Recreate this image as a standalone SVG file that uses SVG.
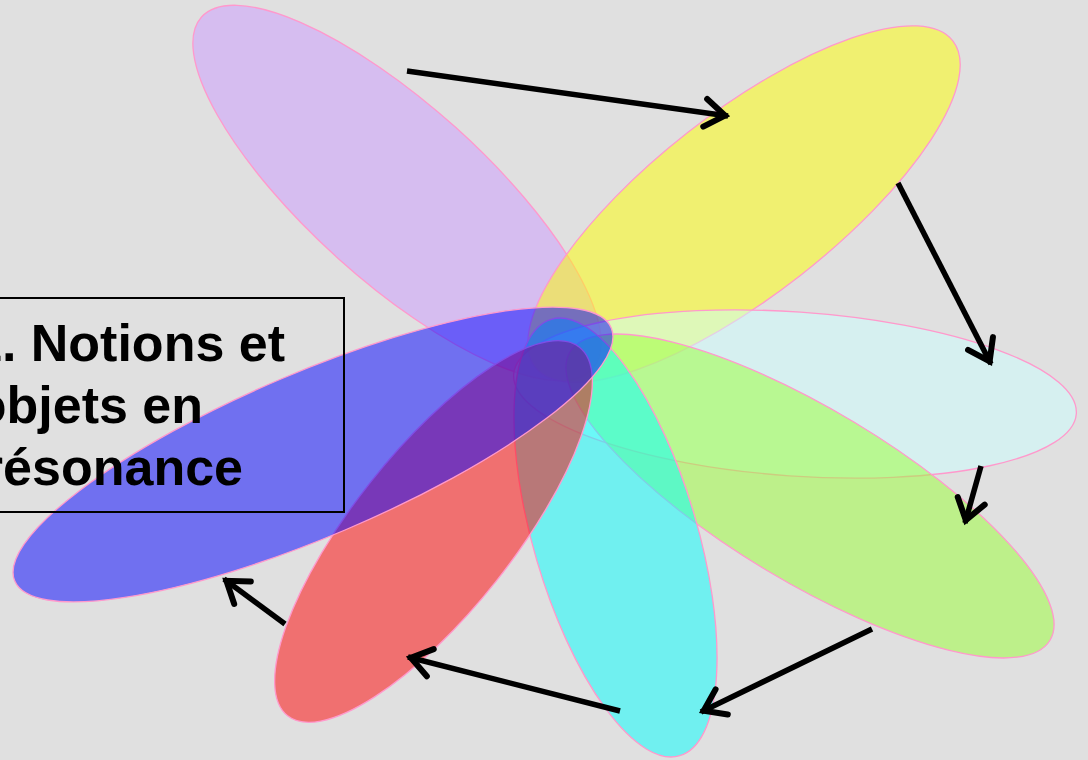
<svg xmlns="http://www.w3.org/2000/svg" width="1088" height="760" viewBox="0 0 1088 760">
  <style>
    .petal { stroke: #ff99cc; stroke-width: 1.3; fill-opacity: 0.5; }
    .arrow { fill: none; stroke: #000; stroke-width: 5.5; marker-end: url(#ah); }
    .title { font-family: "Liberation Sans", Arial, sans-serif; font-weight: bold; font-size: 52px; fill: #000; text-anchor: end; }
  </style>
  <defs>
    <marker id="ah" markerUnits="userSpaceOnUse" markerWidth="34" markerHeight="34" refX="0" refY="0" orient="auto" overflow="visible">
      <path d="M-23,-14 L-3,0 L-23,14" fill="none" stroke="#000" stroke-width="6" stroke-linecap="round"/>
    </marker>
  </defs>
  <rect x="0" y="0" width="1088" height="760" fill="#e0e0e0"/>

  <g id="petal-purple"><ellipse class="petal" cx="397" cy="193" rx="263" ry="88" transform="rotate(42 397 193)" fill="#cc99ff"/></g>
  <g id="petal-yellow"><ellipse class="petal" cx="744" cy="204" rx="265" ry="91" transform="rotate(-38 744 204)" fill="#ffff00"/></g>
  <g id="petal-lightcyan"><ellipse class="petal" cx="795" cy="394" rx="282" ry="82" transform="rotate(4 795 394)" fill="#ccffff"/></g>
  <g id="petal-green"><ellipse class="petal" cx="810" cy="496" rx="280" ry="86" transform="rotate(31 810 496)" fill="#99ff33"/></g>
  <g id="petal-cyan"><ellipse class="petal" cx="615.5" cy="537.5" rx="227.5" ry="82" transform="rotate(73.6 615.5 537.5)" fill="#00ffff"/></g>
  <g id="petal-red"><ellipse class="petal" cx="433.5" cy="531.5" rx="235" ry="80" transform="rotate(-51.6 433.5 531.5)" fill="#ff0000"/></g>
  <g id="petal-blue"><ellipse class="petal" cx="313" cy="454.5" rx="324" ry="82" transform="rotate(-23 313 454.5)" fill="#0000ff"/></g>

  <g id="title-box">
    <rect x="-10" y="298" width="354" height="214" fill="none" stroke="#000" stroke-width="2"/>
    <text class="title" x="285" y="361">1. Notions et</text>
    <text class="title" x="203" y="423">objets en</text>
    <text class="title" x="243" y="485">résonance</text>
  </g>

  <g id="connectors">
    <line class="arrow" x1="407" y1="71" x2="728" y2="116"/>
    <line class="arrow" x1="898" y1="183" x2="991" y2="364"/>
    <line class="arrow" x1="981" y1="466" x2="965" y2="523"/>
    <line class="arrow" x1="872" y1="629" x2="701" y2="712"/>
    <line class="arrow" x1="620" y1="711" x2="408" y2="657"/>
    <line class="arrow" x1="285" y1="624" x2="224" y2="579"/>
  </g>
</svg>
